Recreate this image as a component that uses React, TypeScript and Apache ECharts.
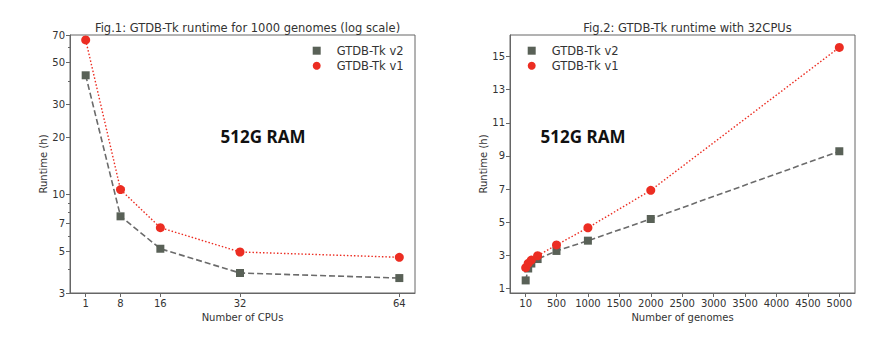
import React, { useEffect, useRef } from "react";
import * as echarts from "echarts";

// Fig.1 data
const cpus = [1, 8, 16, 32, 64];
const cpuV2 = [42.8, 7.65, 5.15, 3.83, 3.6];
const cpuV1 = [65.9, 10.6, 6.66, 4.95, 4.64];
const fig1YLabels = [3, 5, 7, 10, 20, 30, 50, 70];
const fig1YMinor = [4, 6, 8, 9, 40, 60];

// Fig.2 data
const genomes = [10, 50, 100, 200, 500, 1000, 2000, 5000];
const genV2 = [1.48, 2.2, 2.5, 2.77, 3.26, 3.88, 5.19, 9.28];
const genV1 = [2.25, 2.51, 2.71, 2.97, 3.62, 4.66, 6.92, 15.55];
const fig2XLabels = [10, 500, 1000, 1500, 2000, 2500, 3000, 3500, 4000, 4500, 5000];
const fig2YLabels = [1, 3, 5, 7, 9, 11, 13, 15];

const V2 = "GTDB-Tk v2";
const V1 = "GTDB-Tk v1";
const grayMarker = "#596157";
const grayLine = "#6b6b6b";
const red = "#ec2d22";
const frame = "#666666";
const font = "DejaVu Sans";

export default function App() {
  const ref = useRef<HTMLDivElement>(null);
  useEffect(() => {
    if (!ref.current) return;
    const chart = echarts.init(ref.current, null, { renderer: "svg" });
    const plain = (v: number) => String(v);
    const axisCommon = {
      axisLine: { show: true, onZero: false, lineStyle: { color: frame, width: 1 } },
      axisTick: { show: true, inside: false, length: 4, lineStyle: { color: frame } },
      splitLine: { show: false },
      axisLabel: { color: "#333", fontSize: 10, fontFamily: font, margin: 5, formatter: plain },
      nameTextStyle: { color: "#333", fontSize: 10, fontFamily: font },
    };
    const legendCommon = {
      orient: "vertical",
      itemWidth: 8,
      itemHeight: 8,
      itemGap: 3,
      textStyle: { color: "#333", fontSize: 11.5, fontFamily: font, padding: [0, 0, 0, 11] },
      data: [
        { name: V2, icon: "rect", itemStyle: { color: grayMarker } },
        { name: V1, icon: "circle", itemStyle: { color: red } },
      ],
    };
    const v2Style = (xi: number, yi: number, xs: number[], ys: number[]) => ({
      name: V2,
      type: "line",
      xAxisIndex: xi,
      yAxisIndex: yi,
      data: xs.map((x, i) => [x, ys[i]]),
      symbol: "rect",
      symbolSize: 8,
      itemStyle: { color: grayMarker },
      lineStyle: { color: grayLine, width: 1.6, type: [6, 3] },
      z: 2,
    });
    const v1Style = (xi: number, yi: number, xs: number[], ys: number[]) => ({
      name: V1,
      type: "line",
      xAxisIndex: xi,
      yAxisIndex: yi,
      data: xs.map((x, i) => [x, ys[i]]),
      symbol: "circle",
      symbolSize: 9,
      itemStyle: { color: red },
      lineStyle: { color: red, width: 1.4, type: [1.5, 2] },
      z: 3,
    });
    chart.setOption({
      animation: false,
      backgroundColor: "#ffffff",
      title: [
        {
          text: "Fig.1: GTDB-Tk runtime for 1000 genomes (log scale)",
          left: 242.5,
          top: 17,
          textAlign: "center",
          textStyle: { color: "#333", fontSize: 11.5, fontWeight: "normal", fontFamily: font },
        },
        {
          text: "Fig.2: GTDB-Tk runtime with 32CPUs",
          left: 682.5,
          top: 17,
          textAlign: "center",
          textStyle: { color: "#333", fontSize: 11.5, fontWeight: "normal", fontFamily: font },
        },
      ],
      legend: [
        { ...legendCommon, left: 307.7, top: 39.7 },
        { ...legendCommon, left: 522.7, top: 39.7 },
      ],
      grid: [
        { left: 70, right: 481, top: 35, bottom: 63, show: true, borderColor: frame, borderWidth: 1, backgroundColor: "transparent" },
        { left: 510, right: 41, top: 35, bottom: 63, show: true, borderColor: frame, borderWidth: 1, backgroundColor: "transparent" },
      ],
      xAxis: [
        {
          ...axisCommon,
          type: "value",
          gridIndex: 0,
          min: -2.15,
          max: 67.15,
          name: "Number of CPUs",
          nameLocation: "middle",
          nameGap: 16,
          axisTick: { ...axisCommon.axisTick, customValues: cpus },
          axisLabel: { ...axisCommon.axisLabel, customValues: cpus },
        },
        {
          ...axisCommon,
          type: "value",
          gridIndex: 1,
          min: -239.5,
          max: 5249.5,
          name: "Number of genomes",
          nameLocation: "middle",
          nameGap: 16,
          axisTick: { ...axisCommon.axisTick, customValues: fig2XLabels },
          axisLabel: { ...axisCommon.axisLabel, customValues: fig2XLabels },
        },
      ],
      yAxis: [
        {
          ...axisCommon,
          type: "log",
          logBase: 10,
          gridIndex: 0,
          min: 3,
          max: 70,
          name: "Runtime (h)",
          nameLocation: "middle",
          nameRotate: 90,
          nameGap: 22,
          axisTick: { ...axisCommon.axisTick, customValues: fig1YLabels },
          axisLabel: { ...axisCommon.axisLabel, customValues: fig1YLabels },
        },
        {
          type: "log",
          logBase: 10,
          gridIndex: 0,
          min: 3,
          max: 70,
          position: "left",
          axisLine: { show: false, onZero: false },
          splitLine: { show: false },
          axisLabel: { show: false },
          axisTick: { show: true, inside: false, length: 2, lineStyle: { color: frame }, customValues: fig1YMinor },
        },
        {
          ...axisCommon,
          type: "value",
          gridIndex: 1,
          min: 0.72,
          max: 16.3,
          name: "Runtime (h)",
          nameLocation: "middle",
          nameRotate: 90,
          nameGap: 22,
          axisTick: { ...axisCommon.axisTick, customValues: fig2YLabels },
          axisLabel: { ...axisCommon.axisLabel, customValues: fig2YLabels },
        },
      ],
      graphic: [
        {
          type: "text",
          x: 263,
          y: 136,
          style: { text: "512G RAM", font: "bold 17px 'Noto Sans'", fill: "#111", textAlign: "center", textVerticalAlign: "middle" },
        },
        {
          type: "text",
          x: 583,
          y: 136,
          style: { text: "512G RAM", font: "bold 17px 'Noto Sans'", fill: "#111", textAlign: "center", textVerticalAlign: "middle" },
        },
      ],
      series: [
        v2Style(0, 0, cpus, cpuV2),
        v1Style(0, 0, cpus, cpuV1),
        v2Style(1, 2, genomes, genV2),
        v1Style(1, 2, genomes, genV1),
      ],
    });
    return () => chart.dispose();
  }, []);
  return (
    <div
      ref={ref}
      style={{ position: "fixed", left: 0, top: 0, width: 896, height: 356, background: "#fff" }}
    />
  );
}
